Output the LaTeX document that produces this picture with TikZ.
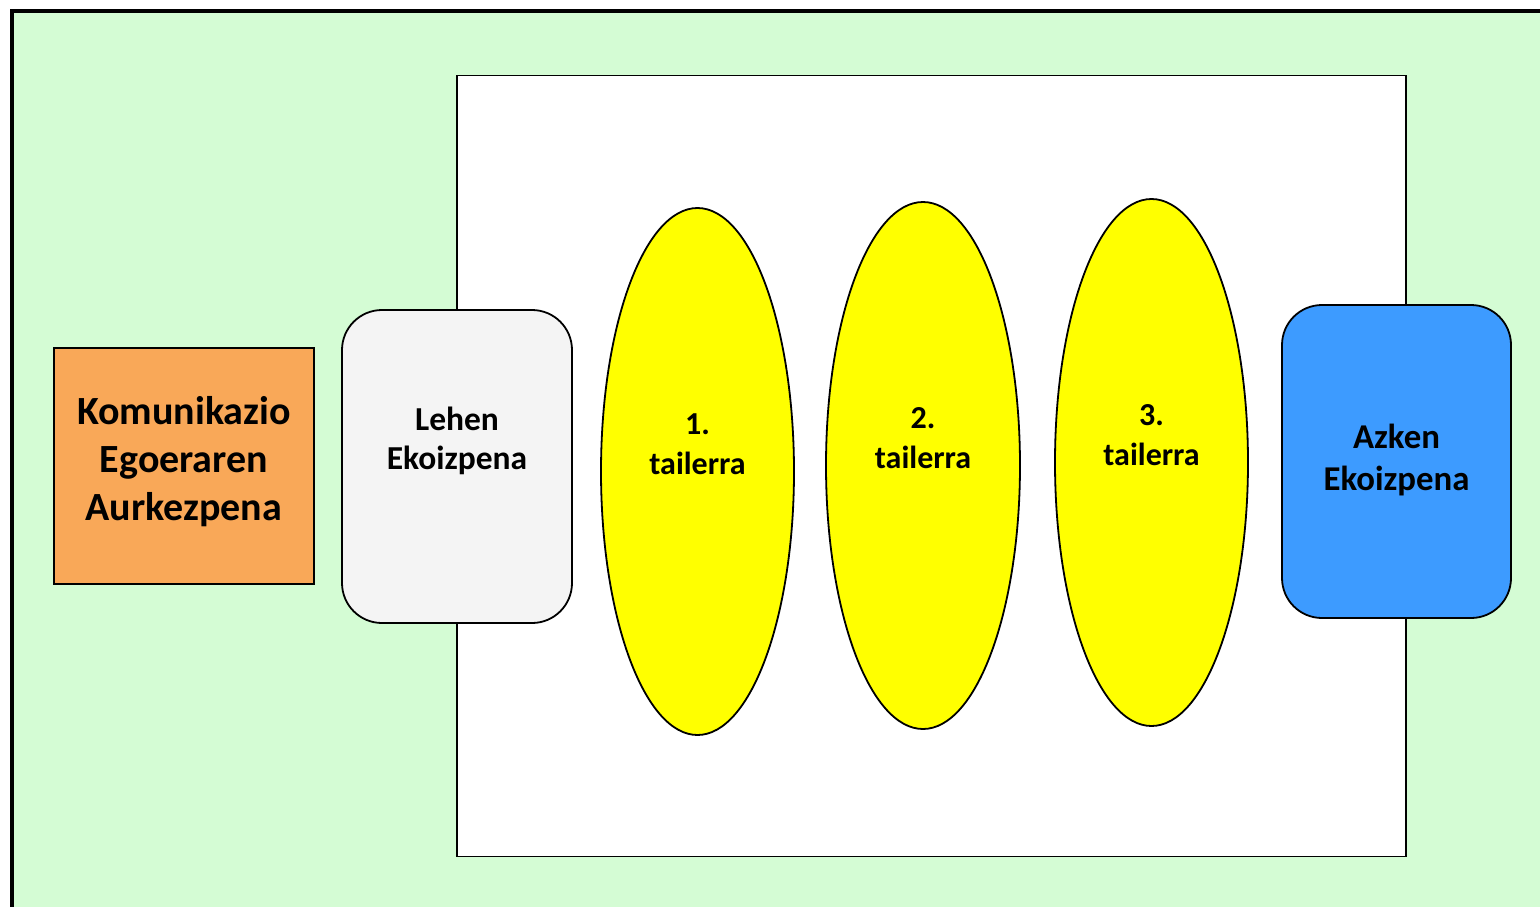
\documentclass[tikz,border=0pt]{standalone}
\usepackage{fontspec}
\setmainfont{Carlito}
\usetikzlibrary{shapes.geometric}
\definecolor{bggreen}{RGB}{212,252,212}
\definecolor{boxorange}{RGB}{249,168,88}
\definecolor{boxgray}{RGB}{244,244,244}
\definecolor{boxblue}{RGB}{61,155,255}
\definecolor{ovalyellow}{RGB}{255,255,0}
\tikzset{
  shape line/.style={draw=black, line width=1.8pt},
  lbl/.style={font=\bfseries, align=center, inner sep=0pt},
  big/.style={lbl, font=\fontsize{40}{48}\selectfont\bfseries},
  mid/.style={lbl, font=\fontsize{32}{40}\selectfont\bfseries},
  oval/.style={shape line, fill=ovalyellow},
}
\begin{document}
\begin{tikzpicture}[x=1pt,y=-1pt]
\path[use as bounding box, clip] (0,0) rectangle (1540,906);
% outer frame
\draw[fill=bggreen, draw=black, line width=3.6pt] (11.8,10.8) rectangle (1600,960);
% inner white panel
\draw[fill=white, draw=black, line width=1.8pt] (457,75.5) rectangle (1406,856.5);
% orange box
\node[draw=black, line width=1.8pt, fill=boxorange, minimum width=260pt, minimum height=236pt, inner sep=0pt] (kom) at (184,466) {};
% gray rounded
\node[shape line, fill=boxgray, rounded corners=40pt, minimum width=230pt, minimum height=313pt, inner sep=0pt] (lehen) at (457,466.5) {};
% ellipses
\draw[oval] (697.5,471.5) ellipse [x radius=96.5, y radius=263.5];
\coordinate (t1) at (697.5,471.5);
\draw[oval] (923,465.5) ellipse [x radius=97, y radius=263.5];
\coordinate (t2) at (923,465.5);
\draw[oval] (1151.5,462.5) ellipse [x radius=96.5, y radius=263.5];
\coordinate (t3) at (1151.5,462.5);
% blue rounded
\node[shape line, fill=boxblue, rounded corners=40pt, minimum width=229pt, minimum height=313pt, inner sep=0pt] (azken) at (1396.5,461.5) {};
% labels
\node[big] (komt) at (184,462) {Komunikazio\\Egoeraren\\Aurkezpena};
\node[lbl, font=\fontsize{33.5}{39}\selectfont\bfseries] (lehent) at (457,441) {Lehen\\Ekoizpena};
\node[mid] (t1t) at (697.5,444) {1.\\tailerra};
\node[mid] (t2t) at (923,438) {2.\\tailerra};
\node[mid] (t3t) at (1151.5,435) {3.\\tailerra};
\node[lbl, font=\fontsize{34.8}{42}\selectfont\bfseries] (azkent) at (1396.5,460) {Azken\\Ekoizpena};
\end{tikzpicture}
\end{document}
